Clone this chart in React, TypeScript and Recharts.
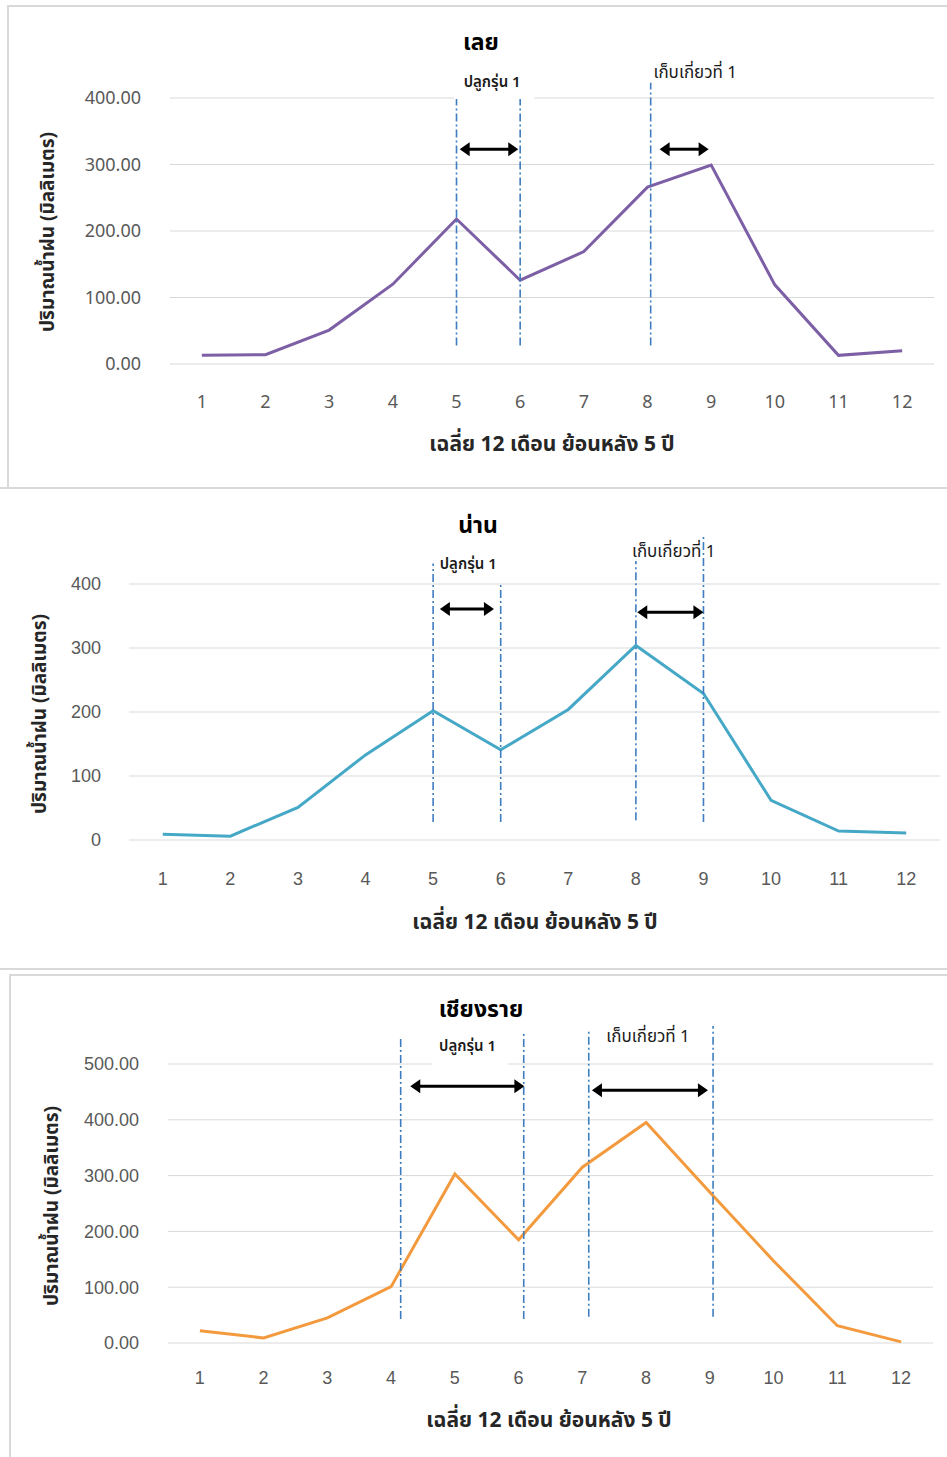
import React from 'react';
import { LineChart, Line, XAxis, YAxis, CartesianGrid, ReferenceLine, ReferenceDot, Label } from 'recharts';

const months = [1, 2, 3, 4, 5, 6, 7, 8, 9, 10, 11, 12];
const loeiRain = [13, 14, 51, 120, 218, 126, 169, 266, 299, 119, 13, 20];
const nanRain = [9, 6, 51, 133, 202, 141, 204, 304, 229, 62, 14, 11];
const chiangRaiRain = [22, 9, 45, 101, 303, 185, 315, 395, 270, 147, 31, 2];

const loeiTicks = [0, 100, 200, 300, 400];
const nanTicks = [0, 100, 200, 300, 400];
const chiangRaiTicks = [0, 100, 200, 300, 400, 500];

const panelTitles = ['เลย', 'น่าน', 'เชียงราย'];
const xTitle = 'เฉลี่ย 12 เดือน ย้อนหลัง 5 ปี';
const yTitle = 'ปริมาณน้ำฝน (มิลลิเมตร)';
const plantLabel = 'ปลูกรุ่น 1';
const harvestLabel = 'เก็บเกี่ยวที่ 1';

// guide lines: [x, yBottom, yTop]
const loeiGuides = [[5, 28, 400], [6, 28, 400], [8.05, 28, 423]];
const nanGuides = [[5, 28, 432], [6, 28, 400], [8, 31, 436], [9, 28, 474]];
const chiangRaiGuides = [[4.15, 43, 545], [6.08, 43, 557], [7.1, 47, 561], [9.05, 47, 568]];

// arrows: [xStart, xEnd, y]
const loeiArrows = [[5.05, 5.97, 323], [8.19, 8.96, 323]];
const nanArrows = [[5.1, 5.9, 361], [8.02, 9.0, 356]];
const chiangRaiArrows = [[4.3, 6.09, 460], [7.15, 8.97, 453]];

// annotation labels: [x, y] for planting then harvest
const loeiNotes = [[5.56, 424], [8.75, 437]];
const nanNotes = [[5.52, 430], [8.56, 450]];
const chiangRaiNotes = [[5.2, 532], [8.03, 548]];

const THAI = '"Noto Sans Thai", "Noto Sans Thai UI", Tahoma, "Noto Sans", "DejaVu Sans", sans-serif';

const build = (vals: number[]) => months.map((m, i) => ({ month: m, rain: vals[i] }));

const Arrow = (p: any) => {
  const { x1, y1, x2 } = p;
  const h = 10;
  const w = 7;
  return (
    <g>
      <line x1={x1 + h - 1} y1={y1} x2={x2 - h + 1} y2={y1} stroke="#000" strokeWidth={3} />
      <polygon points={`${x1},${y1} ${x1 + h},${y1 - w} ${x1 + h},${y1 + w}`} fill="#000" />
      <polygon points={`${x2},${y1} ${x2 - h},${y1 - w} ${x2 - h},${y1 + w}`} fill="#000" />
    </g>
  );
};

interface PanelProps {
  top: number;
  height: number;
  data: number[];
  ticks: number[];
  decimals: number;
  color: string;
  margin: { top: number; right: number; bottom: number; left: number };
  yTickRight: number;
  xTickMargin: number;
  tickFont: string;
  title: string;
  titlePos: [number, number];
  yTitlePos: [number, number];
  xTitlePos: [number, number];
  guides: number[][];
  arrows: number[][];
  notes: number[][];
  plantBox: [number, number, number, number] | null; // dx, dy, w, h
}

const Panel = (p: PanelProps) => {
  const xAxisHeight = 40;
  const chartWidth = 947;
  const rows = build(p.data);
  return (
    <div style={{ position: 'absolute', left: 0, top: p.top, width: chartWidth, height: p.height }}>
      <div
        style={{
          position: 'absolute',
          left: p.titlePos[0] - 100,
          top: p.titlePos[1] - 17,
          width: 200,
          textAlign: 'center',
          fontFamily: THAI,
          fontWeight: 'bold',
          fontSize: 23,
          lineHeight: '34px',
          color: '#000',
        }}
      >
        {p.title}
      </div>
      <LineChart
        width={chartWidth}
        height={p.height}
        data={rows}
        margin={{ top: p.margin.top, right: p.margin.right, bottom: p.margin.bottom - xAxisHeight, left: 0 }}
      >
        <CartesianGrid vertical={false} stroke="#d9d9d9" strokeWidth={1} />
        <XAxis
          dataKey="month"
          type="number"
          domain={[0.5, 12.5]}
          ticks={months}
          allowDataOverflow
          axisLine={false}
          tickLine={false}
          tickSize={0}
          tickMargin={p.xTickMargin}
          height={xAxisHeight}
          tick={{ fill: '#595959', fontSize: 18, fontFamily: p.tickFont }}
        >
          <Label
            content={() => (
              <text
                x={p.xTitlePos[0]}
                y={p.xTitlePos[1]}
                textAnchor="middle"
                dominantBaseline="central"
                fontFamily={THAI}
                fontWeight="bold"
                fontSize={21}
                fill="#262626"
              >
                {xTitle}
              </text>
            )}
          />
        </XAxis>
        <YAxis
          type="number"
          domain={[p.ticks[0], p.ticks[p.ticks.length - 1]]}
          ticks={p.ticks}
          width={p.margin.left}
          axisLine={false}
          tickLine={false}
          tickSize={0}
          tickMargin={p.margin.left - p.yTickRight}
          tickFormatter={(v: number) => v.toFixed(p.decimals)}
          tick={{ fill: '#595959', fontSize: 18, fontFamily: p.tickFont }}
        >
          <Label
            content={() => (
              <text
                x={p.yTitlePos[0]}
                y={p.yTitlePos[1]}
                transform={`rotate(-90, ${p.yTitlePos[0]}, ${p.yTitlePos[1]})`}
                textAnchor="middle"
                dominantBaseline="central"
                fontFamily={THAI}
                fontWeight="bold"
                fontSize={19}
                fill="#262626"
              >
                {yTitle}
              </text>
            )}
          />
        </YAxis>
        <Line
          type="linear"
          dataKey="rain"
          stroke={p.color}
          strokeWidth={3}
          dot={false}
          activeDot={false}
          isAnimationActive={false}
        />
        {p.guides.map((g, i) => (
          <ReferenceLine
            key={'g' + i}
            segment={[{ x: g[0], y: g[1] }, { x: g[0], y: g[2] }]}
            stroke="#3E7CC0"
            strokeWidth={1.6}
            strokeDasharray="8 3 2 3"
            ifOverflow="visible"
          />
        ))}
        {p.arrows.map((a, i) => (
          <ReferenceLine
            key={'a' + i}
            segment={[{ x: a[0], y: a[2] }, { x: a[1], y: a[2] }]}
            ifOverflow="visible"
            shape={(sp: any) => <Arrow {...sp} />}
          />
        ))}
        {p.notes.map((n, i) => (
          <ReferenceDot
            key={'n' + i}
            x={n[0]}
            y={n[1]}
            ifOverflow="visible"
            shape={(sp: any) => (
              <g>
                {i === 0 && p.plantBox && (
                  <rect
                    x={sp.cx + p.plantBox[0]}
                    y={sp.cy + p.plantBox[1]}
                    width={p.plantBox[2]}
                    height={p.plantBox[3]}
                    fill="#fff"
                  />
                )}
                <text
                  x={sp.cx}
                  y={sp.cy}
                  textAnchor="middle"
                  dominantBaseline="central"
                  fontFamily={THAI}
                  fontSize={i === 0 ? 15 : 17}
                  fontWeight={i === 0 ? 600 : 400}
                  fill="#1a1a1a"
                >
                  {i === 0 ? plantLabel : harvestLabel}
                </text>
              </g>
            )}
          />
        ))}
      </LineChart>
    </div>
  );
};

export default function App() {
  return (
    <div style={{ position: 'absolute', left: 0, top: 0, width: 947, height: 1457, background: '#fff', overflow: 'hidden' }}>
      {/* frames */}
      <div style={{ position: 'absolute', left: 7, top: 5, width: 940, height: 482, borderLeft: '2px solid #d9d9d9', borderTop: '2px solid #d9d9d9' }} />
      <div style={{ position: 'absolute', left: 0, top: 487, width: 947, height: 2, background: '#d9d9d9' }} />
      <div style={{ position: 'absolute', left: 0, top: 968, width: 947, height: 2, background: '#d9d9d9' }} />
      <div style={{ position: 'absolute', left: 9, top: 974, width: 938, height: 483, borderLeft: '2px solid #d9d9d9', borderTop: '2px solid #d9d9d9' }} />

      <Panel
        top={0}
        height={488}
        data={loeiRain}
        ticks={loeiTicks}
        decimals={2}
        color="#7D5FA6"
        margin={{ top: 98, right: 13, bottom: 124, left: 170 }}
        yTickRight={141}
        xTickMargin={31}
        tickFont={'"Noto Sans", sans-serif'}
        title={panelTitles[0]}
        titlePos={[481, 43]}
        yTitlePos={[48, 232]}
        xTitlePos={[552, 444]}
        guides={loeiGuides}
        arrows={loeiArrows}
        notes={loeiNotes}
        plantBox={[-38, -15, 80, 32]}
      />
      <Panel
        top={488}
        height={481}
        data={nanRain}
        ticks={nanTicks}
        decimals={0}
        color="#45A8C6"
        margin={{ top: 96, right: 7, bottom: 129, left: 129 }}
        yTickRight={101}
        xTickMargin={32}
        tickFont={'"Liberation Sans Narrow", "Liberation Sans", sans-serif'}
        title={panelTitles[1]}
        titlePos={[478, 38]}
        yTitlePos={[40, 226]}
        xTitlePos={[535, 434]}
        guides={nanGuides}
        arrows={nanArrows}
        notes={nanNotes}
        plantBox={null}
      />
      <Panel
        top={975}
        height={482}
        data={chiangRaiRain}
        ticks={chiangRaiTicks}
        decimals={2}
        color="#F39A3E"
        margin={{ top: 89, right: 14, bottom: 114, left: 168 }}
        yTickRight={139}
        xTickMargin={28}
        tickFont={'"Liberation Sans Narrow", "Liberation Sans", sans-serif'}
        title={panelTitles[2]}
        titlePos={[481, 35]}
        yTitlePos={[52, 231]}
        xTitlePos={[549, 445]}
        guides={chiangRaiGuides}
        arrows={chiangRaiArrows}
        notes={chiangRaiNotes}
        plantBox={[-35, -14, 75, 34]}
      />
    </div>
  );
}
